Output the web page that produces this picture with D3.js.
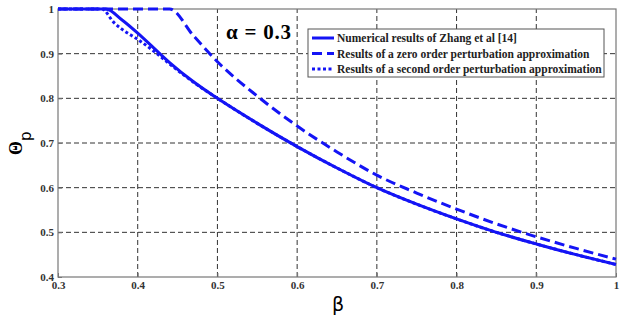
<!DOCTYPE html>
<html>
<head>
<meta charset="utf-8">
<script src="https://cdn.jsdelivr.net/npm/d3@7"></script>
<style>
  body { margin: 0; background: #fff; }
  svg { display: block; }
</style>
</head>
<body>
<div id="chart"></div>
<script>
// values
let xTicks = [0.3, 0.4, 0.5, 0.6, 0.7, 0.8, 0.9, 1];
let yTicks = [0.4, 0.5, 0.6, 0.7, 0.8, 0.9, 1];

let betaZhang = [0.3, 0.36, 0.38, 0.4, 0.42, 0.44, 0.47, 0.5, 0.55, 0.6, 0.65, 0.7, 0.75, 0.8, 0.85, 0.9, 0.95, 1.0];
let thetaZhang = [1, 1, 0.976, 0.946, 0.913, 0.88, 0.837, 0.80, 0.744, 0.692, 0.644, 0.60, 0.563, 0.53, 0.50, 0.474, 0.45, 0.428];

let betaZero = [0.3, 0.44, 0.47, 0.5, 0.55, 0.6, 0.65, 0.7, 0.75, 0.8, 0.85, 0.9, 0.95, 1.0];
let thetaZero = [1, 1, 0.94, 0.882, 0.805, 0.738, 0.68, 0.628, 0.588, 0.552, 0.519, 0.49, 0.464, 0.44];

let betaSecond = [0.3, 0.355, 0.37, 0.38, 0.4, 0.42, 0.44, 0.47, 0.5, 0.55, 0.6, 0.65, 0.7, 0.75, 0.8, 0.85, 0.9, 0.95, 1.0];
let thetaSecond = [1, 1, 0.97, 0.955, 0.932, 0.906, 0.877, 0.836, 0.80, 0.744, 0.692, 0.644, 0.60, 0.563, 0.53, 0.50, 0.474, 0.45, 0.428];

let legendLabels = [
  "Numerical results of Zhang et al [14]",
  "Results of a zero order perturbation approximation",
  "Results of a second order perturbation approximation"
];

let width = 621, height = 320;
let margin = { top: 9, right: 5, bottom: 43, left: 58 };
let blue = "#1414f5";
let serif = "'Liberation Serif', 'Times New Roman', Times, serif";

let svg = d3.select("#chart").append("svg")
  .attr("width", width)
  .attr("height", height);

let x = d3.scaleLinear().domain([0.3, 1]).range([margin.left, width - margin.right]);
let y = d3.scaleLinear().domain([0.4, 1]).range([height - margin.bottom, margin.top]);

// grid
let grid = svg.append("g")
  .attr("stroke", "#333")
  .attr("stroke-width", 1)
  .attr("stroke-dasharray", "5,3");

grid.selectAll(".vg")
  .data(xTicks.slice(1, -1))
  .enter()
  .append("line")
  .attr("x1", d => x(d)).attr("x2", d => x(d))
  .attr("y1", y(0.4)).attr("y2", y(1));

grid.selectAll(".hg")
  .data(yTicks.slice(1, -1))
  .enter()
  .append("line")
  .attr("y1", d => y(d)).attr("y2", d => y(d))
  .attr("x1", x(0.3)).attr("x2", x(1));

// axes
let xAxis = d3.axisBottom(x).tickValues(xTicks).tickSize(-4).tickFormat(d3.format("~g"));
let yAxis = d3.axisLeft(y).tickValues(yTicks).tickSize(-4).tickFormat(d3.format("~g"));

let gx = svg.append("g")
  .attr("transform", "translate(0," + y(0.4) + ")")
  .call(xAxis);
let gy = svg.append("g")
  .attr("transform", "translate(" + x(0.3) + ",0)")
  .call(yAxis);

[gx, gy].forEach(g => {
  g.select(".domain").remove();
  g.selectAll("line").attr("stroke", "#777");
  g.selectAll("text")
    .style("font-family", serif)
    .attr("font-weight", "bold")
    .attr("font-size", "11px")
    .attr("fill", "#333");
});
gx.selectAll("text").attr("dy", "0.85em");
gy.selectAll("text").attr("dx", "-1px");

// box
svg.append("rect")
  .attr("x", x(0.3)).attr("y", y(1))
  .attr("width", x(1) - x(0.3)).attr("height", y(0.4) - y(1))
  .attr("fill", "none")
  .attr("stroke", "#777")
  .attr("stroke-width", 1.2);

// curves
let line = d3.line()
  .curve(d3.curveMonotoneX)
  .x(d => x(d[0]))
  .y(d => y(d[1]));

let series = [
  { bx: betaZhang, ty: thetaZhang, dash: null },
  { bx: betaZero, ty: thetaZero, dash: "10,5" },
  { bx: betaSecond, ty: thetaSecond, dash: "3,2.5" }
];

svg.append("g")
  .selectAll("path")
  .data(series)
  .enter()
  .append("path")
  .attr("d", s => line(s.bx.map((b, i) => [b, s.ty[i]])))
  .attr("fill", "none")
  .attr("stroke", blue)
  .attr("stroke-width", 3)
  .attr("stroke-dasharray", s => s.dash);

// alpha label
svg.append("text")
  .attr("x", 226).attr("y", 39)
  .style("font-family", serif)
  .attr("font-weight", "bold")
  .attr("font-size", "21px")
  .attr("textLength", 65)
  .text("\u03b1 = 0.3");

// legend
let legend = svg.append("g");
legend.append("rect")
  .attr("x", 308).attr("y", 29)
  .attr("width", 296).attr("height", 48)
  .attr("fill", "#fff")
  .attr("stroke", "#555")
  .attr("stroke-width", 1);

let rows = legend.selectAll(".row")
  .data(legendLabels)
  .enter()
  .append("g")
  .attr("transform", (d, i) => "translate(312," + (38 + i * 15.5) + ")");

rows.append("line")
  .attr("x1", 0).attr("x2", 22)
  .attr("stroke", blue)
  .attr("stroke-width", 3)
  .attr("stroke-dasharray", (d, i) => series[i].dash);

rows.append("text")
  .attr("x", 25).attr("dy", "0.35em")
  .style("font-family", serif)
  .attr("font-weight", "bold")
  .attr("font-size", "11.5px")
  .attr("fill", "#222")
  .text(d => d);

// axis titles
svg.append("text")
  .attr("x", 338).attr("y", 311)
  .attr("text-anchor", "middle")
  .style("font-family", "'DejaVu Sans', sans-serif")
  .attr("font-size", "19px")
  .text("\u03b2");

let yl = svg.append("text")
  .attr("transform", "translate(22,155) rotate(-90)")
  .style("font-family", serif)
  .attr("font-weight", "bold")
  .attr("font-size", "18px");
yl.append("tspan").text("\u0398");
yl.append("tspan").attr("dy", 9).attr("font-size", "15px").attr("font-weight", "normal").style("font-family", "'DejaVu Sans', sans-serif").text("p");
</script>
</body>
</html>
